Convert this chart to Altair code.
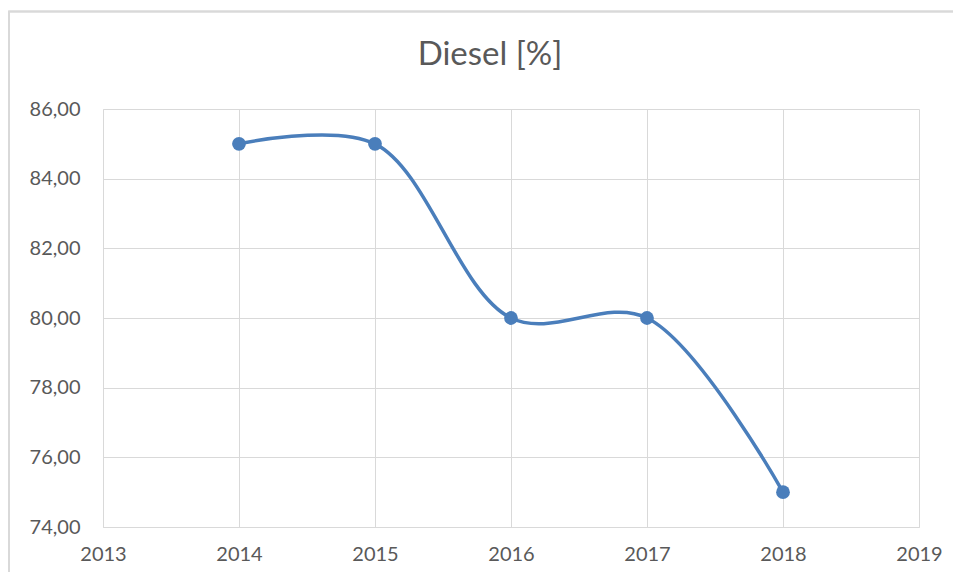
import altair as alt
import pandas as pd

years = [2014, 2015, 2016, 2017, 2018]
diesel = [85.0, 85.0, 80.0, 80.0, 75.0]
x_ticks = [2013, 2014, 2015, 2016, 2017, 2018, 2019]
y_ticks = [74, 76, 78, 80, 82, 84, 86]
title_text = "Diesel [%]"

df = pd.DataFrame({"year": years, "diesel": diesel})

BLUE = "#4A7EBB"
GRID = "#D9D9D9"
TXT = "#595959"
FONT = "Lato"

x_enc = alt.X(
    "year:Q",
    scale=alt.Scale(domain=[2013, 2019], nice=False, zero=False),
    axis=alt.Axis(values=x_ticks, format="d", title=None, grid=True,
                  gridColor=GRID, domainColor=GRID, ticks=False,
                  labelFont=FONT, labelFontSize=20, labelColor=TXT,
                  labelPadding=17, labelFlush=False, labelOverlap=False),
)
y_enc = alt.Y(
    "diesel:Q",
    scale=alt.Scale(domain=[74, 86], nice=False, zero=False),
    axis=alt.Axis(values=y_ticks, title=None, grid=True,
                  gridColor=GRID, domainColor=GRID, ticks=False,
                  labelExpr="replace(format(datum.value, '.2f'), '.', ',')",
                  labelFont=FONT, labelFontSize=20, labelColor=TXT,
                  labelPadding=23, labelFlush=False, labelOverlap=False),
)

base = alt.Chart(df)

frame = base.mark_rect(
    fill=None, stroke=GRID, strokeWidth=1.3
).encode(
    x=alt.value(-94), x2=alt.value(880), y=alt.value(-97.5), y2=alt.value(480)
)

title = alt.Chart(pd.DataFrame({"t": [title_text]})).mark_text(
    font=FONT, fontSize=33, color=TXT, align="center", baseline="alphabetic"
).encode(text="t:N", x=alt.value(387), y=alt.value(-44.5))

line = base.mark_line(
    color=BLUE, strokeWidth=3.5, interpolate="catmull-rom"
).encode(x=x_enc, y=y_enc)

pts = base.mark_point(
    filled=True, color=BLUE, size=190, opacity=1
).encode(x="year:Q", y="diesel:Q")

chart = alt.layer(frame, title, line, pts).properties(
    width=816,
    height=418,
    padding={"left": 95, "top": 101, "right": 34, "bottom": 45},
    autosize=alt.AutoSizeParams(type="none"),
).configure_view(stroke=None)

chart.save("out.html", embed_options={"renderer": "svg", "actions": False})
